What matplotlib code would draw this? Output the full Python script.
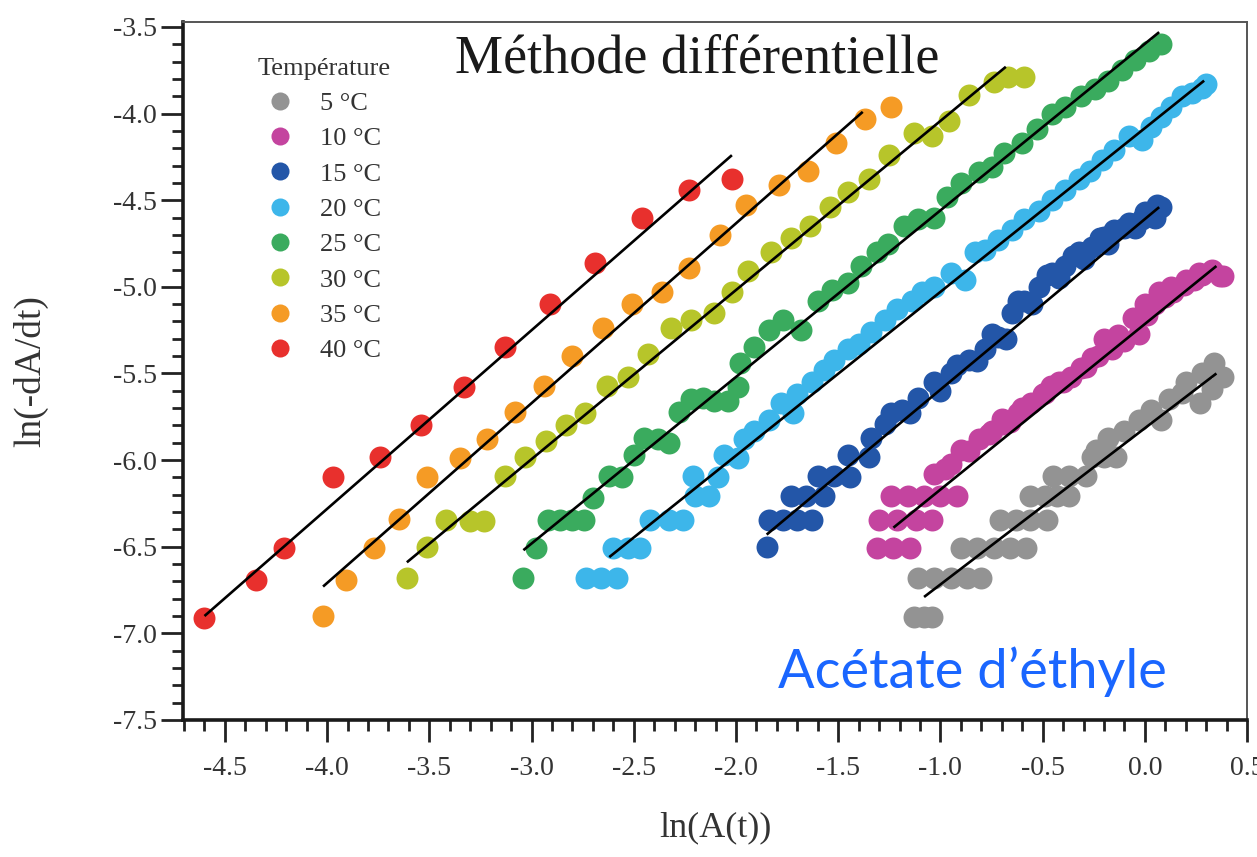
"""Méthode différentielle: ln(-dA/dt) vs ln(A(t)) for ethyl acetate at 5-40 °C."""

import matplotlib

matplotlib.use("Agg")
import matplotlib.pyplot as plt  # noqa: E402
from matplotlib.lines import Line2D  # noqa: E402
from matplotlib.ticker import FormatStrFormatter, MultipleLocator  # noqa: E402

TEMPS = ["5 °C", "10 °C", "15 °C", "20 °C", "25 °C", "30 °C", "35 °C", "40 °C"]
COLORS = ["#939393", "#c4449f", "#2356a8", "#3db6ea", "#3aab5e", "#b7c52a", "#f59b25", "#e8302d"]

X_5C = [-1.13, -1.08, -1.04, -1.11, -1.03, -0.95, -0.87, -0.80, -0.90, -0.82, -0.74, -0.66, -0.58,
        -0.71, -0.63, -0.56, -0.48, -0.56, -0.49, -0.43, -0.37, -0.45, -0.37, -0.29, -0.26, -0.20,
        -0.14, -0.24, -0.18, -0.10, -0.03, 0.03, 0.08, 0.12, 0.18, 0.27, 0.20, 0.28, 0.34, 0.38, 0.33]
Y_5C = [-6.905, -6.905, -6.905, -6.68, -6.68, -6.68, -6.68, -6.68, -6.51, -6.51, -6.51, -6.51, -6.51,
        -6.345, -6.345, -6.345, -6.345, -6.21, -6.21, -6.21, -6.21, -6.09, -6.09, -6.09, -5.98, -5.98,
        -5.98, -5.94, -5.87, -5.83, -5.77, -5.71, -5.77, -5.65, -5.61, -5.67, -5.55, -5.50, -5.44, -5.52, -5.59]

X_10C = [-1.31, -1.23, -1.15, -1.30, -1.21, -1.12, -1.04, -1.24, -1.16, -1.08, -1.00, -0.92,
         -1.03, -0.98, -0.95, -0.90, -0.86, -0.81, -0.76, -0.75, -0.70, -0.69, -0.66, -0.62, -0.60,
         -0.555, -0.50, -0.49, -0.46, -0.42, -0.40, -0.36, -0.31, -0.29, -0.26, -0.23, -0.20, -0.16,
         -0.13, -0.10, -0.06, -0.03, 0.00, 0.01, 0.05, 0.07, 0.10, 0.13, 0.14, 0.19, 0.20, 0.24,
         0.265, 0.28, 0.33, 0.37, 0.38]
Y_10C = [-6.51, -6.51, -6.51, -6.345, -6.345, -6.345, -6.345, -6.21, -6.21, -6.21, -6.21, -6.21,
         -6.08, -6.05, -6.02, -5.94, -5.95, -5.88, -5.85, -5.83, -5.76, -5.79, -5.78, -5.73, -5.70,
         -5.67, -5.62, -5.61, -5.57, -5.55, -5.55, -5.52, -5.47, -5.46, -5.41, -5.40, -5.30, -5.36,
         -5.28, -5.31, -5.18, -5.27, -5.10, -5.16, -5.10, -5.03, -5.06, -5.00, -5.03, -4.99, -4.96,
         -4.96, -4.92, -4.93, -4.90, -4.94, -4.94]

X_15C = [-1.85, -1.84, -1.77, -1.70, -1.63, -1.73, -1.66, -1.57, -1.60, -1.52, -1.44, -1.45, -1.35,
         -1.34, -1.27, -1.24, -1.19, -1.15, -1.11, -1.03, -1.00, -0.95, -0.92, -0.86, -0.82, -0.78,
         -0.75, -0.72, -0.68, -0.65, -0.62, -0.59, -0.55, -0.52, -0.48, -0.456, -0.42, -0.39, -0.35,
         -0.32, -0.30, -0.26, -0.22, -0.20, -0.18, -0.15, -0.10, -0.08, -0.05, -0.015, 0.00, 0.03,
         0.05, 0.06, 0.08]
Y_15C = [-6.50, -6.345, -6.345, -6.345, -6.345, -6.21, -6.21, -6.21, -6.09, -6.09, -6.10, -5.97, -5.98,
         -5.87, -5.79, -5.73, -5.71, -5.73, -5.64, -5.55, -5.60, -5.50, -5.45, -5.42, -5.43, -5.36,
         -5.27, -5.29, -5.30, -5.15, -5.08, -5.08, -5.10, -5.00, -4.93, -4.92, -4.95, -4.88, -4.82,
         -4.80, -4.84, -4.77, -4.72, -4.71, -4.75, -4.67, -4.66, -4.63, -4.66, -4.61, -4.57, -4.57,
         -4.60, -4.53, -4.54]

X_20C = [-2.735, -2.66, -2.58, -2.60, -2.53, -2.47, -2.42, -2.33, -2.26, -2.20, -2.13, -2.21, -2.09,
         -2.06, -1.99, -1.96, -1.91, -1.84, -1.78, -1.72, -1.70, -1.63, -1.57, -1.52, -1.45, -1.40,
         -1.34, -1.27, -1.21, -1.14, -1.09, -1.03, -0.95, -0.88, -0.83, -0.78, -0.72, -0.65, -0.59,
         -0.52, -0.456, -0.39, -0.32, -0.27, -0.21, -0.15, -0.08, -0.015, 0.03, 0.08, 0.13, 0.18,
         0.23, 0.28, 0.30]
Y_20C = [-6.68, -6.68, -6.68, -6.51, -6.51, -6.51, -6.345, -6.345, -6.345, -6.21, -6.21, -6.09, -6.10,
         -5.97, -5.99, -5.88, -5.83, -5.77, -5.67, -5.73, -5.62, -5.55, -5.48, -5.42, -5.36, -5.33,
         -5.26, -5.19, -5.13, -5.08, -5.03, -5.00, -4.92, -4.96, -4.80, -4.79, -4.73, -4.67, -4.61,
         -4.56, -4.50, -4.44, -4.38, -4.33, -4.27, -4.21, -4.13, -4.15, -4.08, -4.02, -3.96, -3.90,
         -3.88, -3.85, -3.83]

X_25C = [-3.04, -2.98, -2.92, -2.86, -2.80, -2.745, -2.70, -2.62, -2.56, -2.50, -2.45, -2.38, -2.33,
         -2.28, -2.22, -2.16, -2.11, -2.04, -1.99, -1.98, -1.91, -1.84, -1.77, -1.68, -1.60, -1.53,
         -1.45, -1.39, -1.31, -1.255, -1.18, -1.11, -1.03, -0.97, -0.90, -0.81, -0.75, -0.69, -0.60,
         -0.53, -0.456, -0.39, -0.31, -0.245, -0.18, -0.11, -0.05, 0.02, 0.08]
Y_25C = [-6.68, -6.51, -6.345, -6.345, -6.345, -6.345, -6.22, -6.09, -6.10, -5.97, -5.87, -5.88, -5.90,
         -5.72, -5.65, -5.64, -5.66, -5.66, -5.58, -5.44, -5.35, -5.25, -5.19, -5.25, -5.08, -5.02,
         -4.98, -4.88, -4.80, -4.75, -4.65, -4.61, -4.60, -4.48, -4.40, -4.34, -4.31, -4.23, -4.17,
         -4.09, -4.00, -3.96, -3.90, -3.86, -3.81, -3.75, -3.69, -3.64, -3.60]

X_30C = [-3.61, -3.51, -3.42, -3.30, -3.235, -3.13, -3.03, -2.93, -2.83, -2.74, -2.63, -2.53, -2.43,
         -2.32, -2.22, -2.11, -2.02, -1.94, -1.83, -1.73, -1.64, -1.54, -1.45, -1.35, -1.25, -1.13,
         -1.04, -0.96, -0.86, -0.74, -0.67, -0.59]
Y_30C = [-6.68, -6.50, -6.345, -6.35, -6.35, -6.09, -5.98, -5.89, -5.80, -5.73, -5.57, -5.52, -5.39,
         -5.24, -5.19, -5.15, -5.03, -4.91, -4.80, -4.72, -4.65, -4.54, -4.45, -4.38, -4.24, -4.11,
         -4.13, -4.04, -3.89, -3.82, -3.79, -3.79]

X_35C = [-4.02, -3.91, -3.77, -3.65, -3.51, -3.35, -3.22, -3.08, -2.94, -2.80, -2.65, -2.51, -2.36,
         -2.23, -2.08, -1.95, -1.79, -1.65, -1.51, -1.37, -1.24]
Y_35C = [-6.90, -6.69, -6.51, -6.34, -6.10, -5.99, -5.88, -5.72, -5.57, -5.40, -5.24, -5.10, -5.03,
         -4.89, -4.70, -4.53, -4.41, -4.33, -4.17, -4.03, -3.96]

X_40C = [-4.60, -4.35, -4.21, -3.97, -3.74, -3.54, -3.33, -3.13, -2.91, -2.69, -2.46, -2.23, -2.02]
Y_40C = [-6.91, -6.69, -6.51, -6.10, -5.98, -5.80, -5.58, -5.35, -5.10, -4.86, -4.60, -4.44, -4.38]

SERIES_X = [X_5C, X_10C, X_15C, X_20C, X_25C, X_30C, X_35C, X_40C]
SERIES_Y = [Y_5C, Y_10C, Y_15C, Y_20C, Y_25C, Y_30C, Y_35C, Y_40C]

# linear fits as drawn: (x start, x end), (y start, y end)
FIT_X = [(-1.08, 0.35), (-1.23, 0.35), (-1.85, 0.07), (-2.62, 0.29),
         (-3.04, 0.07), (-3.61, -0.68), (-4.02, -1.38), (-4.60, -2.02)]
FIT_Y = [(-6.79, -5.50), (-6.39, -4.88), (-6.43, -4.54), (-6.56, -3.81),
         (-6.52, -3.53), (-6.59, -3.73), (-6.73, -3.99), (-6.90, -4.24)]

SERIF = ["Liberation Serif", "DejaVu Serif"]

plt.rcParams["axes.unicode_minus"] = False
plt.rcParams["font.family"] = SERIF

fig = plt.figure(figsize=(12.57, 8.57), dpi=100)
ax = fig.add_axes([0.1456, 0.1599, 0.8465, 0.8145])

for xs, ys, color in zip(SERIES_X, SERIES_Y, COLORS):
    ax.scatter(xs, ys, s=250, color=color, linewidths=0, zorder=2)
for fx, fy in zip(FIT_X, FIT_Y):
    ax.plot(fx, fy, color="black", linewidth=1.9, zorder=3, solid_capstyle="butt")

ax.set_xlim(-4.705, 0.5)
ax.set_ylim(-7.5, -3.471)
ax.xaxis.set_major_locator(MultipleLocator(0.5))
ax.xaxis.set_minor_locator(MultipleLocator(0.1))
ax.yaxis.set_major_locator(MultipleLocator(0.5))
ax.yaxis.set_minor_locator(MultipleLocator(0.1))
ax.xaxis.set_major_formatter(FormatStrFormatter("%.1f"))
ax.yaxis.set_major_formatter(FormatStrFormatter("%.1f"))
ax.tick_params(which="major", direction="out", length=16, width=2, labelsize=20, color="#222222",
               labelcolor="#333333", top=False, right=False)
ax.tick_params(which="minor", direction="out", length=8, width=2, color="#222222", top=False, right=False)
ax.tick_params(axis="x", which="major", pad=10)
ax.tick_params(axis="y", which="major", pad=3)

for side in ("left", "bottom"):
    ax.spines[side].set_linewidth(2.6)
    ax.spines[side].set_color("#1a1a1a")
for side in ("top", "right"):
    ax.spines[side].set_linewidth(1.4)
    ax.spines[side].set_color("#555555")

ax.set_xlabel("ln(A(t))", fontsize=26, color="#333333", labelpad=22)
ax.set_ylabel("ln(-dA/dt)", fontsize=27, color="#333333", labelpad=46)

ax.text(0.483, 0.927, "Méthode différentielle", transform=ax.transAxes, ha="center", va="baseline",
        fontsize=39, color="#1a1a1a")
ax.text(0.742, 0.046, "Acétate d’éthyle", transform=ax.transAxes, ha="center", va="baseline",
        fontsize=39, color="#1a66ff", family=["Lato", "DejaVu Sans"], fontweight="normal")

handles = [Line2D([], [], linestyle="", marker="o", markersize=13, markerfacecolor=c, markeredgewidth=0)
           for c in COLORS]
leg = ax.legend(handles, TEMPS, title="Température", loc="upper left", bbox_to_anchor=(0.07, 0.949),
                frameon=False, fontsize=19, title_fontsize=19, handlelength=1.0, handletextpad=1.0,
                labelspacing=0.45, borderaxespad=0, borderpad=0)
for t in leg.get_texts():
    t.set_color("#333333")
leg.get_title().set_color("#333333")

fig.savefig("out.png", dpi=100, facecolor="white")
